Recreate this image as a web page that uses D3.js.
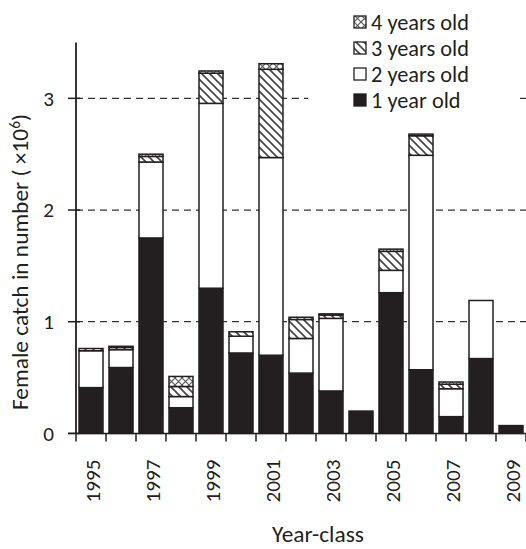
<!DOCTYPE html>
<html>
<head>
<meta charset="utf-8">
<script src="https://cdn.jsdelivr.net/npm/d3@7/dist/d3.min.js"></script>
<style>
  html, body { margin: 0; padding: 0; background: #fff; }
  svg { display: block; font-family: Carlito, Lato, "Liberation Sans", sans-serif; }
</style>
</head>
<body>
<svg id="chart" width="526" height="549"></svg>
<script>
// Female catch by year-class, split by age at capture (millions)
const yearClasses = [1995, 1996, 1997, 1998, 1999, 2000, 2001, 2002, 2003, 2004, 2005, 2006, 2007, 2008, 2009];
const age1 = [0.41, 0.59, 1.75, 0.23, 1.30, 0.72, 0.70, 0.54, 0.38, 0.20, 1.26, 0.57, 0.15, 0.67, 0.07];
const age2 = [0.33, 0.16, 0.68, 0.10, 1.655, 0.15, 1.77, 0.31, 0.65, 0.00, 0.20, 1.92, 0.25, 0.52, 0.00];
const age3 = [0.02, 0.02, 0.05, 0.09, 0.27, 0.04, 0.79, 0.17, 0.03, 0.00, 0.17, 0.175, 0.04, 0.00, 0.00];
const age4 = [0.00, 0.01, 0.02, 0.09, 0.02, 0.00, 0.05, 0.02, 0.01, 0.00, 0.02, 0.015, 0.02, 0.00, 0.00];
const yTicks = [0, 1, 2, 3];
const labelledYears = [1995, 1997, 1999, 2001, 2003, 2005, 2007, 2009];
const legendItems = [
  { key: "a4", label: "4 years old" },
  { key: "a3", label: "3 years old" },
  { key: "a2", label: "2 years old" },
  { key: "a1", label: "1 year old" }
];

const ink = "#231f20";
const svg = d3.select("#chart");

// pick a font size so that a sample string spans the wanted width
function fitSize(sample, width) {
  const t = svg.append("text").attr("font-size", 20).text(sample);
  const len = t.node().getComputedTextLength();
  t.remove();
  return len > 0 ? 20 * width / len : 20;
}
const numSize = fitSize("1995", 43);
const legendSize = fitSize("4 years old", 98);
const titleSize = fitSize("Year-class", 92);

// hatch patterns
const defs = svg.append("defs");
const diag = defs.append("pattern")
  .attr("id", "hatch3").attr("patternUnits", "userSpaceOnUse")
  .attr("width", 8).attr("height", 8);
diag.append("rect").attr("width", 8).attr("height", 8).attr("fill", "#fff");
diag.append("path").attr("d", "M-2,-2 L10,10 M-2,6 L2,10 M6,-2 L10,2")
  .attr("stroke", "#444").attr("stroke-width", 1.6);

const cross = defs.append("pattern")
  .attr("id", "hatch4").attr("patternUnits", "userSpaceOnUse")
  .attr("width", 7).attr("height", 7);
cross.append("rect").attr("width", 7).attr("height", 7).attr("fill", "#fff");
cross.append("path").attr("d", "M0,0 L7,7 M7,0 L0,7")
  .attr("stroke", "#555").attr("stroke-width", 1.1);

const fills = { a1: ink, a2: "#fff", a3: "url(#hatch3)", a4: "url(#hatch4)" };

const x = d3.scaleBand().domain(yearClasses).range([76, 526])
  .paddingInner(0.2).paddingOuter(0.1);
const y = d3.scaleLinear().domain([0, 3.5]).range([433.4, 42.5]);

const rows = yearClasses.map((yr, i) => ({ year: yr, a1: age1[i], a2: age2[i], a3: age3[i], a4: age4[i] }));
const series = d3.stack().keys(["a1", "a2", "a3", "a4"])(rows);

// dashed gridlines
svg.append("g").selectAll("line").data(yTicks.filter(d => d > 0)).join("line")
  .attr("x1", x.range()[0]).attr("x2", x.range()[1])
  .attr("y1", d => y(d)).attr("y2", d => y(d))
  .attr("stroke", "#333").attr("stroke-width", 1.3)
  .attr("stroke-dasharray", "7,5");

// legend panel (opaque)
svg.append("rect").attr("x", 308).attr("y", 6).attr("width", 211).attr("height", 108).attr("fill", "#fff");

// stacked bars
svg.append("g").selectAll("g").data(series).join("g")
  .attr("fill", d => fills[d.key])
  .selectAll("rect").data(d => d.filter(s => s[1] - s[0] > 0)).join("rect")
  .attr("x", d => x(d.data.year))
  .attr("width", x.bandwidth())
  .attr("y", d => y(d[1]))
  .attr("height", d => y(d[0]) - y(d[1]))
  .attr("stroke", ink).attr("stroke-width", 1.5);

// y axis
const yAxis = svg.append("g");
yAxis.append("line").attr("x1", 76).attr("x2", 76)
  .attr("y1", y(0)).attr("y2", y(3.5)).attr("stroke", ink).attr("stroke-width", 1.8);
yAxis.selectAll(".tk").data(yTicks).join("line").attr("class", "tk")
  .attr("x1", 68).attr("x2", 80).attr("y1", d => y(d)).attr("y2", d => y(d))
  .attr("stroke", ink).attr("stroke-width", 1.5);
yAxis.selectAll("text").data(yTicks).join("text")
  .attr("x", 54).attr("y", d => y(d)).attr("dy", "0.35em")
  .attr("text-anchor", "end").attr("font-size", numSize).attr("fill", ink)
  .text(d => d);

// x axis
const xAxis = svg.append("g");
xAxis.append("line").attr("x1", 68).attr("x2", 526)
  .attr("y1", y(0)).attr("y2", y(0)).attr("stroke", ink).attr("stroke-width", 1.5);
xAxis.selectAll(".tk").data(d3.range(yearClasses.length + 1)).join("line").attr("class", "tk")
  .attr("x1", i => x.range()[0] + i * x.step()).attr("x2", i => x.range()[0] + i * x.step())
  .attr("y1", y(0)).attr("y2", y(0) + 8)
  .attr("stroke", ink).attr("stroke-width", 1.5);
xAxis.selectAll("text").data(labelledYears).join("text")
  .attr("transform", d => `translate(${x(d) + x.bandwidth() / 2 + 2},${y(0) + 26}) rotate(-90)`)
  .attr("dy", "0.35em").attr("text-anchor", "end")
  .attr("font-size", numSize).attr("fill", ink)
  .text(d => d);

// axis titles
svg.append("text").attr("x", 318).attr("y", 542)
  .attr("text-anchor", "middle").attr("font-size", titleSize).attr("fill", ink)
  .text("Year-class");
const yTitle = svg.append("text")
  .attr("transform", "translate(28,262) rotate(-90)")
  .attr("text-anchor", "middle").attr("font-size", titleSize).attr("fill", ink);
yTitle.append("tspan").text("Female catch in number ( ×10");
yTitle.append("tspan").attr("dy", -8).attr("font-size", titleSize * 0.65).text("6");
yTitle.append("tspan").attr("dy", 8).text(")");

// legend
const lg = svg.append("g").selectAll("g").data(legendItems).join("g")
  .attr("transform", (d, i) => `translate(354,${22 + i * 26})`);
lg.append("rect").attr("x", 0).attr("y", -6).attr("width", 12).attr("height", 12)
  .attr("fill", d => fills[d.key]).attr("stroke", ink).attr("stroke-width", 1.3);
lg.append("text").attr("x", 17).attr("y", 0).attr("dy", "0.35em")
  .attr("font-size", legendSize).attr("fill", ink).text(d => d.label);
</script>
</body>
</html>
